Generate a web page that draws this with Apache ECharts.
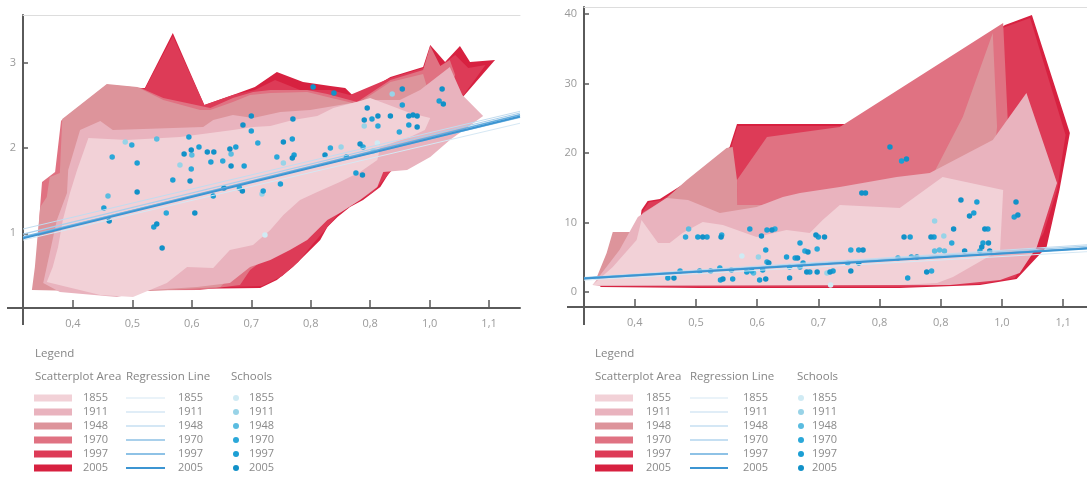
<!DOCTYPE html>
<html>
<head>
<meta charset="utf-8">
<script src="https://cdn.jsdelivr.net/npm/echarts@6/dist/echarts.min.js"></script>
<style>
  html, body { margin: 0; padding: 0; background: #fff; }
  #chart { width: 1087px; height: 479px; }
</style>
</head>
<body>
<div id="chart"></div>
<script>
// ---- data ----
const years = ['1855', '1911', '1948', '1970', '1997', '2005'];
const xTickValues = [0.4, 0.5, 0.6, 0.7, 0.8, 0.9, 1.0, 1.1];
const xTickLabels = ['0,4', '0,5', '0,6', '0,7', '0,8', '0,8', '1,0', '1,1'];
const yTicksLeft = [1, 2, 3];
const yTicksRight = [0, 10, 20, 30, 40];

// scatterplot areas, left chart
const areaL1855 = [[0.356,0.429],[0.366,0.605],[0.375,0.839],[0.383,1.156],[0.395,1.473],[0.407,1.742],[0.426,2.117],[0.491,2.094],[0.580,2.129],[0.669,2.211],[0.703,2.246],[0.732,2.258],[0.770,2.328],[0.811,2.375],[0.838,2.469],[0.883,2.551],[0.900,2.586],[0.945,2.469],[0.967,2.410],[1.001,2.352],[0.992,2.211],[0.967,2.129],[0.917,2.012],[0.912,1.859],[0.883,1.719],[0.849,1.602],[0.811,1.484],[0.782,1.390],[0.754,1.214],[0.732,1.039],[0.703,0.863],[0.664,0.804],[0.636,0.593],[0.592,0.605],[0.558,0.417],[0.501,0.253],[0.446,0.277]];
const areaL1911 = [[0.350,0.417],[0.361,0.769],[0.373,1.156],[0.390,1.473],[0.392,1.742],[0.412,2.211],[0.446,2.316],[0.467,2.211],[0.619,2.246],[0.636,2.328],[0.669,2.387],[0.703,2.352],[0.749,2.422],[0.799,2.445],[0.849,2.504],[0.900,2.563],[0.950,2.563],[0.984,2.680],[1.034,2.950],[1.055,2.621],[1.090,2.375],[1.034,2.094],[1.001,1.894],[0.962,1.742],[0.922,1.719],[0.912,1.543],[0.883,1.390],[0.849,1.238],[0.828,1.156],[0.811,1.039],[0.794,0.922],[0.765,0.804],[0.732,0.687],[0.698,0.605],[0.664,0.417],[0.609,0.370],[0.530,0.335],[0.474,0.253],[0.378,0.312]];
const areaL1948 = [[0.331,0.335],[0.336,0.605],[0.341,1.004],[0.345,1.308],[0.356,1.426],[0.361,1.660],[0.378,1.707],[0.382,2.340],[0.457,2.750],[0.508,2.715],[0.552,2.563],[0.614,2.445],[0.631,2.445],[0.669,2.539],[0.698,2.621],[0.732,2.645],[0.794,2.657],[0.828,2.598],[0.878,2.516],[0.934,2.774],[0.989,2.868],[0.997,2.680],[0.984,2.445],[0.950,2.094],[0.917,1.801],[0.883,1.648],[0.845,1.484],[0.799,1.273],[0.765,1.074],[0.732,0.922],[0.698,0.769],[0.676,0.570],[0.648,0.370],[0.530,0.323],[0.412,0.323]];
const areaL1970 = [[0.336,0.359],[0.341,0.922],[0.345,1.332],[0.348,1.602],[0.370,1.719],[0.380,2.320],[0.457,2.740],[0.513,2.705],[0.552,2.586],[0.631,2.469],[0.669,2.586],[0.703,2.657],[0.732,2.680],[0.794,2.680],[0.828,2.633],[0.878,2.539],[0.934,2.797],[0.989,2.914],[1.001,3.196],[1.018,2.961],[1.034,3.032],[1.043,2.856],[1.026,2.563],[0.984,2.152],[0.942,1.859],[0.908,1.625],[0.887,1.508],[0.866,1.412],[0.838,1.273],[0.811,1.144],[0.782,1.004],[0.754,0.839],[0.720,0.687],[0.698,0.570],[0.681,0.394],[0.614,0.335],[0.446,0.330]];
const areaL1997 = [[0.347,0.370],[0.355,0.800],[0.363,1.270],[0.380,1.620],[0.397,2.260],[0.457,2.670],[0.521,2.690],[0.568,3.313],[0.621,2.504],[0.669,2.621],[0.706,2.680],[0.740,2.797],[0.782,2.680],[0.833,2.680],[0.866,2.621],[0.934,2.821],[0.989,2.938],[1.018,2.961],[1.043,3.090],[1.065,2.938],[1.094,2.973],[1.051,2.563],[1.018,2.234],[0.970,1.953],[0.934,1.719],[0.905,1.484],[0.878,1.367],[0.849,1.250],[0.824,1.039],[0.802,0.863],[0.779,0.664],[0.752,0.499],[0.718,0.382],[0.614,0.360],[0.446,0.370]];
const areaL2005 = [[0.345,0.359],[0.353,0.804],[0.361,1.273],[0.378,1.625],[0.395,2.269],[0.457,2.680],[0.521,2.703],[0.568,3.348],[0.621,2.504],[0.669,2.621],[0.706,2.715],[0.743,2.891],[0.787,2.774],[0.833,2.727],[0.858,2.703],[0.875,2.586],[0.934,2.832],[0.989,2.950],[1.001,3.208],[1.026,3.008],[1.051,3.196],[1.068,3.008],[1.110,3.032],[1.056,2.598],[1.018,2.269],[0.975,1.977],[0.937,1.766],[0.917,1.543],[0.888,1.390],[0.866,1.308],[0.845,1.191],[0.828,1.074],[0.816,0.922],[0.794,0.769],[0.770,0.605],[0.743,0.453],[0.715,0.359],[0.614,0.350],[0.446,0.360]];

// scatterplot areas, right chart
const areaR1855 = [[0.331,1.01],[0.364,3.60],[0.403,7.48],[0.411,10.36],[0.438,7.05],[0.457,7.05],[0.478,8.49],[0.511,10.07],[0.544,9.64],[0.599,7.91],[0.648,8.92],[0.686,8.49],[0.707,10.36],[0.735,12.52],[0.833,12.09],[0.903,16.55],[1.002,14.68],[0.997,6.04],[0.920,2.16],[0.894,1.29],[0.833,1.01],[0.506,1.01]];
const areaR1911 = [[0.331,1.01],[0.375,6.04],[0.405,10.79],[0.452,13.53],[0.487,13.24],[0.539,11.37],[0.599,12.23],[0.642,13.67],[0.670,14.24],[0.735,15.11],[0.828,16.55],[0.882,17.12],[0.985,21.87],[1.040,28.63],[1.090,15.68],[1.057,6.47],[1.029,2.73],[0.997,1.73],[0.915,1.01],[0.343,0.86]];
const areaR1948 = [[0.338,2.16],[0.354,5.61],[0.364,8.63],[0.395,8.63],[0.413,11.37],[0.452,13.53],[0.485,16.12],[0.550,20.72],[0.560,20.86],[0.567,16.12],[0.568,12.52],[0.604,12.52],[0.702,13.96],[0.887,16.83],[0.936,25.18],[0.985,37.27],[0.992,23.74],[0.988,20.43],[0.980,13.24],[0.915,6.04],[0.833,1.73],[0.343,1.01]];
const areaR1970 = [[0.568,12.52],[0.567,16.12],[0.616,22.30],[0.735,23.74],[1.002,38.71],[1.010,23.74],[0.988,20.43],[0.882,16.12],[0.702,13.96],[0.604,12.52]];
const areaR1997 = [[0.351,0.86],[0.506,0.72],[0.670,0.72],[0.833,0.72],[0.964,1.15],[1.021,2.01],[1.068,8.49],[1.090,14.68],[1.104,22.59],[1.046,39.42],[1.005,38.13],[0.746,23.88],[0.568,23.88],[0.557,20.72],[0.516,17.60],[0.492,16.00],[0.443,13.20],[0.423,12.90],[0.413,11.60],[0.410,9.50],[0.386,4.60]];
const areaR2005 = [[0.343,0.72],[0.506,0.58],[0.670,0.58],[0.833,0.58],[0.964,1.01],[1.024,1.87],[1.073,6.47],[1.094,14.68],[1.111,22.88],[1.049,39.86],[1.005,38.42],[0.746,24.17],[0.567,24.17],[0.555,20.86],[0.514,17.84],[0.490,16.12],[0.441,13.38],[0.421,13.09],[0.411,11.80],[0.408,9.64],[0.384,4.60]];

// regression lines: x span and y at each end, per year
const regXLeft = [0.316, 1.152];
const regStartLeft = [0.92, 1.05, 0.99, 0.96, 0.95, 0.94];
const regEndLeft = [2.29, 2.43, 2.41, 2.36, 2.39, 2.37];
const regXRight = [0.317, 1.139];
const regStartRight = [1.7, 2.1, 2.0, 1.9, 2.0, 1.95];
const regEndRight = [5.8, 6.8, 6.6, 6.4, 6.3, 6.25];

// schools, left chart
const dotsL1855 = [[0.723,0.980],[0.912,2.059]];
const dotsL1911 = [[0.488,2.070],[0.580,1.801],[0.754,1.824],[0.851,2.012],[0.890,2.258],[0.937,2.633],[0.718,1.461],[0.905,1.965]];
const dotsL1948 = [[0.459,1.437],[0.600,1.918],[0.541,2.106],[0.666,1.930]];
const dotsL1970 = [[0.499,2.035],[0.466,1.894],[0.557,1.238],[0.599,1.754],[0.652,1.848],[0.680,1.531],[0.711,2.059],[0.743,1.894],[0.833,2.000],[0.888,2.012],[0.913,2.258],[0.949,2.188]];
const dotsL1997 = [[0.508,1.824],[0.452,1.297],[0.536,1.074],[0.568,1.625],[0.595,2.129],[0.612,2.012],[0.632,1.836],[0.674,2.012],[0.688,1.789],[0.636,1.437],[0.700,2.199],[0.720,1.496],[0.769,2.106],[0.772,1.918],[0.749,1.578],[0.860,1.894],[0.876,1.707],[0.903,2.340],[0.954,2.504],[0.965,2.269],[1.016,2.551]];
const dotsL2005 = [[0.508,1.484],[0.461,1.144],[0.541,1.109],[0.550,0.828],[0.587,1.930],[0.599,1.977],[0.597,1.613],[0.626,1.953],[0.637,1.953],[0.664,1.988],[0.666,1.789],[0.605,1.238],[0.654,1.531],[0.685,1.496],[0.700,2.375],[0.686,2.269],[0.770,2.340],[0.754,2.070],[0.769,1.883],[0.804,2.715],[0.839,2.645],[0.824,1.918],[0.883,2.047],[0.887,1.684],[0.895,2.469],[0.890,2.328],[0.913,2.375],[0.954,2.692],[0.934,2.375],[0.965,2.375],[0.972,2.387],[0.979,2.375],[0.979,2.246],[1.021,2.692],[1.023,2.516]];

// schools, right chart
const dotsR1855 = [[0.575,5.18],[0.720,1.01]];
const dotsR1911 = [[0.602,5.04],[0.714,2.73],[0.890,10.22],[0.905,8.06]];
const dotsR1948 = [[0.488,9.06],[0.594,2.73],[0.890,5.90],[0.898,6.04],[0.906,5.90]];
const dotsR1970 = [[0.483,7.91],[0.542,8.20],[0.629,9.06],[0.474,3.02],[0.539,3.45],[0.591,3.02],[0.616,4.32],[0.653,3.60],[0.678,5.90],[0.698,6.19],[0.753,6.04],[0.830,4.89],[0.885,3.02],[0.918,7.05],[0.964,5.90]];
const dotsR1997 = [[0.503,7.91],[0.518,7.91],[0.588,9.06],[0.616,8.92],[0.454,2.01],[0.506,3.02],[0.540,1.73],[0.560,1.87],[0.583,2.88],[0.604,1.73],[0.614,6.04],[0.609,3.17],[0.648,5.04],[0.662,4.89],[0.670,7.05],[0.675,4.17],[0.686,2.88],[0.700,7.91],[0.670,3.60],[0.724,3.02],[0.836,18.85],[0.766,6.04],[0.748,4.17],[0.852,5.04],[0.846,2.01],[0.850,7.91],[0.889,7.91],[0.959,12.95],[0.954,11.37],[0.977,9.06],[0.969,7.05],[1.020,10.79]];
const dotsR2005 = [[0.511,7.91],[0.541,7.91],[0.607,8.06],[0.624,8.92],[0.464,2.01],[0.524,3.02],[0.544,1.87],[0.558,3.17],[0.614,1.87],[0.619,4.17],[0.653,2.01],[0.666,4.89],[0.683,5.76],[0.681,2.88],[0.698,2.88],[0.696,8.20],[0.710,7.91],[0.719,2.88],[0.817,20.86],[0.844,19.14],[0.771,14.24],[0.777,14.24],[0.773,6.04],[0.766,4.17],[0.753,3.02],[0.861,5.04],[0.877,2.88],[0.840,7.91],[0.884,7.91],[0.921,9.06],[0.939,5.90],[0.933,13.24],[0.947,10.94],[0.972,9.06],[0.967,6.47],[0.978,7.05],[0.980,5.90],[1.023,12.95],[1.026,11.08]];

const areasLeft = [areaL1855, areaL1911, areaL1948, areaL1970, areaL1997, areaL2005];
const areasRight = [areaR1855, areaR1911, areaR1948, areaR1970, areaR1997, areaR2005];
const dotsLeft = [dotsL1855, dotsL1911, dotsL1948, dotsL1970, dotsL1997, dotsL2005];
const dotsRight = [dotsR1855, dotsR1911, dotsR1948, dotsR1970, dotsR1997, dotsR2005];

// ---- styles ----
const areaColors = ['#f2d1d7', '#e9b3be', '#dd949b', '#e07282', '#dd3b57', '#d72140'];
const lineColors = ['#d6e8f4', '#c2dcef', '#a9cfeb', '#8cc0e5', '#68aede', '#3c95d2'];
const lineWidths = [1, 1, 1.2, 1.3, 1.5, 2];
const dotColors = ['#d0ebf4', '#98d3e7', '#5abce0', '#2ba8d9', '#1c9fd4', '#1191c8'];
const font = '"Open Sans", sans-serif';
const axisColor = '#5a5a5a';
const labelColor = '#9a9a9a';

const myChart = echarts.init(document.getElementById('chart'));

function tickLabel(v) {
    let i = xTickValues.findIndex(t => Math.abs(t - v) < 1e-6);
    return i >= 0 ? xTickLabels[i] : '';
}

function bottomAxis(grid, min, max) {
    return {
        type: 'value', gridIndex: grid, position: 'bottom', min: min, max: max,
        axisLine: { show: true, onZero: false, lineStyle: { color: axisColor, width: 2 } },
        axisTick: { show: true, inside: true, length: 8, customValues: xTickValues,
            lineStyle: { color: axisColor, width: 1.5 } },
        axisLabel: { customValues: xTickValues, formatter: tickLabel, color: labelColor,
            fontSize: 11, fontFamily: font, margin: 10 },
        splitLine: { show: false }
    };
}

function topAxis(grid, min, max) {
    return {
        type: 'value', gridIndex: grid, position: 'top', min: min, max: max,
        axisLine: { show: true, onZero: false, lineStyle: { color: '#dddddd', width: 1 } },
        axisTick: { show: false }, axisLabel: { show: false }, splitLine: { show: false }
    };
}

function sideAxis(grid, min, max, ticks) {
    return {
        type: 'value', gridIndex: grid, min: min, max: max,
        axisLine: { show: true, onZero: false, lineStyle: { color: axisColor, width: 2 } },
        axisTick: { show: true, inside: true, length: 5, customValues: ticks,
            lineStyle: { color: axisColor, width: 1.5 } },
        axisLabel: { customValues: ticks, color: labelColor, fontSize: 11, fontFamily: font, margin: 7 },
        splitLine: { show: false }
    };
}

function buildSeries(side, xi, yi, areas, regX, regS, regE, dots) {
    let s = [];
    // darkest (latest) area at the back
    for (let i = years.length - 1; i >= 0; i--) {
        let pts = areas[i];
        let color = areaColors[i];
        s.push({
            type: 'custom', name: years[i] + ' area ' + side,
            xAxisIndex: xi, yAxisIndex: yi, data: pts, encode: { x: 0, y: 1 },
            itemStyle: { color: color }, silent: true,
            renderItem: (params, api) => {
                if (params.dataIndex !== 0) return null;
                return {
                    type: 'polygon',
                    shape: { points: pts.map(p => api.coord(p)) },
                    style: { fill: color }
                };
            }
        });
    }
    years.forEach((y, i) => {
        s.push({
            type: 'line', name: y + ' line ' + side, xAxisIndex: xi, yAxisIndex: yi,
            data: [[regX[0], regS[i]], [regX[1], regE[i]]],
            symbol: 'none', silent: true,
            itemStyle: { color: lineColors[i] },
            lineStyle: { color: lineColors[i], width: lineWidths[i] }
        });
    });
    years.forEach((y, i) => {
        s.push({
            type: 'scatter', name: y + ' school ' + side, xAxisIndex: xi, yAxisIndex: yi,
            data: dots[i], symbolSize: 5.5, silent: true,
            itemStyle: { color: dotColors[i], opacity: 1 }
        });
    });
    return s;
}

function legendBlock(left, kind, side, icon, w, h, pad) {
    return {
        left: left, top: 391, orient: 'vertical', padding: 0, itemGap: 0,
        itemWidth: w, itemHeight: h, selectedMode: false, symbolKeepAspect: true,
        data: years.map((y, i) => ({
            name: y + ' ' + kind + ' ' + side,
            // regression legend: a thin bar as thick as the line
            icon: icon || ('path://M0,0H40V' + lineWidths[i] + 'H0Z')
        })),
        formatter: n => n.slice(0, 4),
        textStyle: { color: '#8a8a8a', fontSize: 11, lineHeight: 14, fontFamily: font,
            padding: [0, 0, 0, pad] }
    };
}

function legendTexts(x0, xLine, xDot) {
    const st = t => ({ text: t, fill: '#858585', font: '11.5px ' + font });
    return [
        { type: 'text', left: x0, top: 348, style: st('Legend') },
        { type: 'text', left: x0, top: 371, style: st('Scatterplot Area') },
        { type: 'text', left: xLine, top: 371, style: st('Regression Line') },
        { type: 'text', left: xDot, top: 371, style: st('Schools') }
    ];
}

function axisStub(x1, y1, x2, y2) {
    return { type: 'line', shape: { x1: x1, y1: y1, x2: x2, y2: y2 },
        style: { stroke: axisColor, lineWidth: 2 } };
}

let option = {
    backgroundColor: '#ffffff',
    animation: false,
    grid: [
        { left: 23, top: 15, width: 497, height: 293 },
        { left: 584, top: 7, width: 503, height: 300 }
    ],
    xAxis: [
        bottomAxis(0, 0.316, 1.152), topAxis(0, 0.316, 1.152),
        bottomAxis(1, 0.317, 1.139), topAxis(1, 0.317, 1.139)
    ],
    yAxis: [
        sideAxis(0, 0.124, 3.559, yTicksLeft),
        sideAxis(1, -2.158, 41.01, yTicksRight)
    ],
    legend: [
        legendBlock(34, 'area', 'L', 'rect', 38, 7, 6),
        legendBlock(126, 'line', 'L', null, 39, 7, 8),
        legendBlock(233, 'school', 'L', 'circle', 6, 6, 5),
        legendBlock(595, 'area', 'R', 'rect', 38, 7, 8),
        legendBlock(690, 'line', 'R', null, 38, 7, 10),
        legendBlock(798, 'school', 'R', 'circle', 6, 6, 3)
    ],
    graphic: [
        axisStub(7, 308, 24, 308), axisStub(23, 307, 23, 325),
        axisStub(567, 307, 585, 307), axisStub(584, 306, 584, 325)
    ].concat(legendTexts(35, 126, 231), legendTexts(595, 690, 797)),
    series: buildSeries('L', 0, 0, areasLeft, regXLeft, regStartLeft, regEndLeft, dotsLeft)
        .concat(buildSeries('R', 2, 1, areasRight, regXRight, regStartRight, regEndRight, dotsRight))
};

option && myChart.setOption(option);
</script>
</body>
</html>
